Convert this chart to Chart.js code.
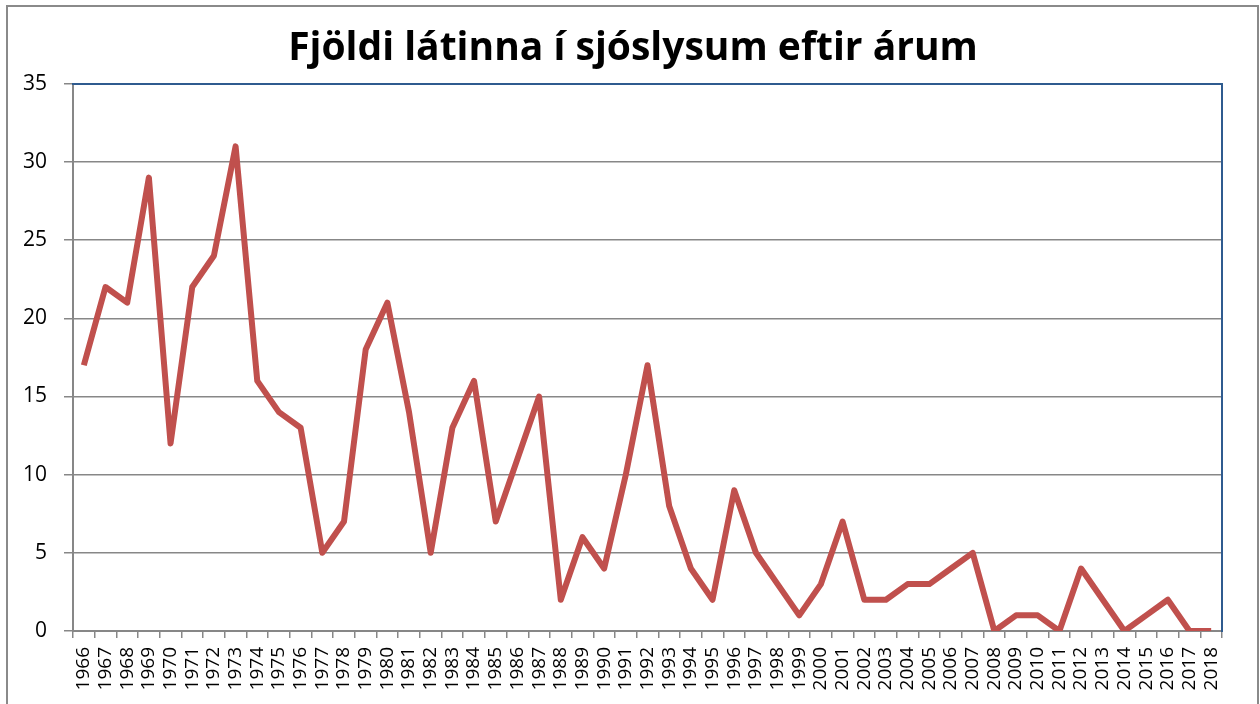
<!DOCTYPE html>
<html>
<head>
<meta charset="utf-8">
<script src="https://cdn.jsdelivr.net/npm/chart.js@4/dist/chart.umd.min.js"></script>
<style>
  body { margin: 0; background: #fff; }
  #frame { position: absolute; left: 6px; top: 5px; width: 1249px; height: 800px; border: 2px solid #8a8a8a; }
  #wrap { position: absolute; left: 0; top: 0; width: 1260px; height: 704px; }
</style>
</head>
<body>
<div id="frame"></div>
<div id="wrap"><canvas id="slysChart" width="1260" height="704"></canvas></div>
<script>
// Ár og fjöldi látinna
const years = ['1966','1967','1968','1969','1970','1971','1972','1973','1974','1975',
  '1976','1977','1978','1979','1980','1981','1982','1983','1984','1985',
  '1986','1987','1988','1989','1990','1991','1992','1993','1994','1995',
  '1996','1997','1998','1999','2000','2001','2002','2003','2004','2005',
  '2006','2007','2008','2009','2010','2011','2012','2013','2014','2015',
  '2016','2017','2018'];
const deaths = [17, 22, 21, 29, 12, 22, 24, 31, 16, 14,
  13, 5, 7, 18, 21, 14, 5, 13, 16, 7,
  11, 15, 2, 6, 4, 10, 17, 8, 4, 2,
  9, 5, 3, 1, 3, 7, 2, 2, 3, 3,
  4, 5, 0, 1, 1, 0, 4, 2, 0, 1,
  2, 0, 0];
const yMin = 0, yMax = 35, yStep = 5;
const chartTitle = 'Fjöldi látinna í sjóslysum eftir árum';

const gridGray = '#878787';
const borderBlue = '#2f5b8f';

var ctx = document.getElementById('slysChart').getContext('2d');
var slysChart = new Chart(ctx, {
    type: 'line',
    data: {
        labels: years,
        datasets: [{
            label: 'Látnir',
            data: deaths,
            borderColor: '#c0504d',
            backgroundColor: '#c0504d',
            borderWidth: 6,
            borderJoinStyle: 'round',
            pointRadius: 0,
            tension: 0,
            fill: false
        }]
    },
    options: {
        responsive: false,
        animation: false,
        // vinstri/hægri bil valin svo titillinn sé miðjaður eins og í upprunalegu myndinni
        layout: { padding: { left: 18, right: 12, top: 0, bottom: 0 } },
        plugins: {
            legend: { display: false },
            tooltip: { enabled: false },
            title: {
                display: true,
                text: chartTitle,
                color: '#000',
                font: { family: 'Open Sans', size: 39, weight: 'bold' },
                padding: { top: 25, bottom: 12 }
            }
        },
        scales: {
            x: {
                offset: true,
                grid: { display: true, drawOnChartArea: false, drawTicks: true, tickLength: 7, offset: true, color: gridGray, lineWidth: 1.5 },
                border: { display: true, color: gridGray, width: 2 },
                ticks: {
                    autoSkip: false, maxRotation: 90, minRotation: 90, padding: 9,
                    color: '#000', font: { family: 'Open Sans', size: 19 }
                },
                afterFit: function(scale) { scale.height = 73; }
            },
            y: {
                min: yMin,
                max: yMax,
                ticks: { stepSize: yStep, padding: 17, color: '#000', font: { family: 'Open Sans', size: 21 } },
                grid: { color: gridGray, lineWidth: 1.5, tickLength: 9 },
                border: { display: true, color: gridGray, width: 2 },
                afterFit: function(scale) { scale.width = 55; }
            },
            x2: {
                position: 'top',
                grid: { display: false, drawTicks: false },
                ticks: { display: false },
                border: { display: true, color: borderBlue, width: 2 },
                afterFit: function(scale) { scale.height = 0; }
            },
            y2: {
                position: 'right',
                grid: { display: false, drawTicks: false },
                ticks: { display: false },
                border: { display: true, color: borderBlue, width: 2 },
                afterFit: function(scale) { scale.width = 26; }
            }
        }
    }
});
</script>
</body>
</html>
